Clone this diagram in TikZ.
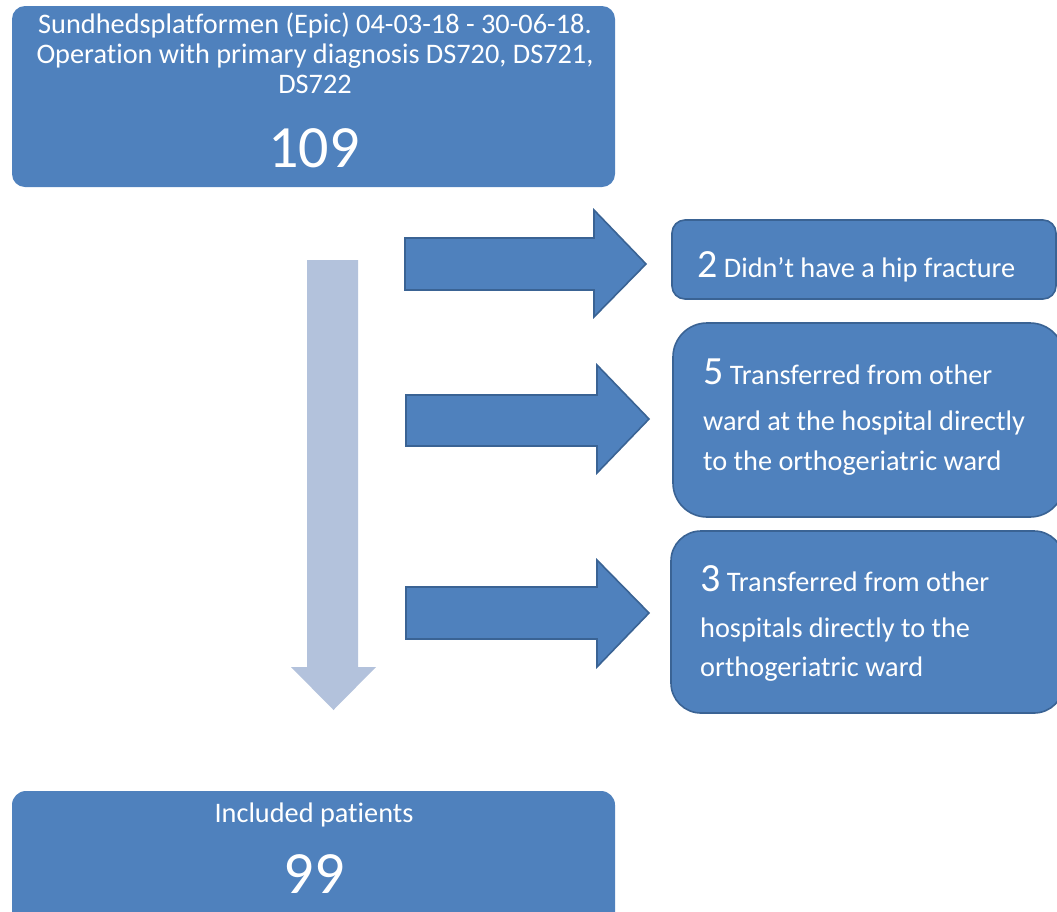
\documentclass[tikz,border=0pt]{standalone}
\usepackage{fontspec}
\setmainfont{Carlito}[Ligatures=NoCommon]
\definecolor{boxblue}{HTML}{4F81BD}
\definecolor{boxedge}{HTML}{3A6394}
\definecolor{paleblue}{HTML}{B3C2DC}
\begin{document}
\begin{tikzpicture}[x=1pt,y=-1pt,
  bluebox/.style={fill=boxblue, draw=boxedge, line width=1.6pt},
  plainbox/.style={fill=boxblue, draw=none},
  blockarrow/.style={fill=boxblue, draw=boxedge, line width=1.6pt, line join=miter},
  downarrow/.style={fill=paleblue, draw=none},
  txt/.style={text=white, inner sep=0pt, font=\fontsize{28.3}{34}\selectfont},
  bignum/.style={text=white, inner sep=0pt, font=\fontsize{60}{60}\selectfont}]
\useasboundingbox (0,0) rectangle (1057,911);
\clip (0,0) rectangle (1057,911);
% boxes
\fill[plainbox, rounded corners=13pt] (12,6) rectangle (615,187);
\coordinate (topbox) at (313.5,96.5);
\fill[plainbox, rounded corners=14pt] (12,791) rectangle (615,930);
\coordinate (botbox) at (313.5,850);
\draw[bluebox, rounded corners=13pt] (672,220) rectangle (1056,299);
\draw[bluebox, rounded corners=34pt] (673,323) rectangle (1064,517);
\draw[bluebox, rounded corners=30pt] (671,531) rectangle (1064,713);
% texts top
\node[txt, anchor=base] (t1) at (315,33) {Sundhedsplatformen (Epic) 04-03-18 - 30-06-18.};
\node[txt, anchor=base] (t2) at (315,63) {Operation with primary diagnosis DS720, DS721,};
\node[txt, anchor=base] (t3) at (315,93) {DS722};
\node[bignum, anchor=base] (n109) at (314,167) {109};
% bottom
\node[txt, anchor=base] (inc) at (314,822) {Included patients};
\node[bignum, anchor=base] (n99) at (314,893) {99};
% right texts
\node[txt, anchor=base west] (r1) at (697,277) {{\fontsize{40}{40}\selectfont 2} Didn’t have a hip fracture};
\node[txt, anchor=base west] (r2a) at (703,384) {{\fontsize{40}{40}\selectfont 5} Transferred from other};
\node[txt, anchor=base west] (r2b) at (703,430) {ward at the hospital directly};
\node[txt, anchor=base west] (r2c) at (703,470) {to the orthogeriatric ward};
\node[txt, anchor=base west] (r3a) at (700,591) {{\fontsize{40}{40}\selectfont 3} Transferred from other};
\node[txt, anchor=base west] (r3b) at (700,637) {hospitals directly to the};
\node[txt, anchor=base west] (r3c) at (700,676) {orthogeriatric ward};
% horizontal block arrows
\draw[blockarrow] (405,238) -- (594,238) -- (594,210) -- (646,264) -- (594,317) -- (594,290) -- (405,290) -- cycle;
\draw[blockarrow] (406,395) -- (597,395) -- (597,365) -- (649,419) -- (597,473) -- (597,446) -- (406,446) -- cycle;
\draw[blockarrow] (406,587) -- (597,587) -- (597,560) -- (649,613) -- (597,667) -- (597,639) -- (406,639) -- cycle;
% vertical arrow
\fill[downarrow] (307,260) -- (358,260) -- (358,667) -- (376,667) -- (333.5,710) -- (291,667) -- (307,667) -- cycle;
\end{tikzpicture}
\end{document}
